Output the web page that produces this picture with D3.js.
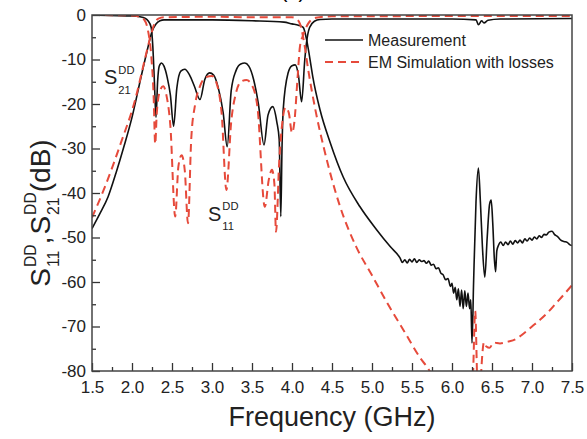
<!DOCTYPE html>
<html>
<head>
<meta charset="utf-8">
<script src="https://cdn.jsdelivr.net/npm/d3@7"></script>
<style>
  html, body { margin: 0; padding: 0; background: #fff; }
  svg { display: block; font-family: "Liberation Sans", Arial, sans-serif; }
</style>
</head>
<body>
<div id="chart"></div>
<script>
// frequency (GHz), dB
const measS21 = [
  [1.5,-48],[1.6,-44.6],[1.7,-40.9],[1.8,-35.5],[1.9,-29.5],[2.0,-23],[2.1,-15],[2.15,-11],
  [2.2,-7.2],[2.25,-3.7],[2.3,-2.0],[2.35,-1.3],[2.4,-1.1],[3.0,-1.1],[3.5,-1.3],[3.9,-1.6],
  [4.0,-2.0],[4.08,-2.3],[4.14,-2.8],[4.18,-5.3],[4.22,-9.4],[4.26,-13.9],[4.35,-21.3],
  [4.48,-28.8],[4.64,-36.4],[4.85,-43.1],[5.06,-48.3],[5.23,-52.1],[5.35,-54.6],
  [5.38,-55.6],[5.41,-55.0],[5.44,-55.7],[5.47,-54.9],[5.5,-55.5],[5.53,-54.8],[5.56,-55.6],
  [5.59,-55.0],[5.62,-55.4],[5.65,-55.2],[5.68,-55.8],[5.71,-55.3],[5.74,-56.2],[5.77,-56.0],
  [5.8,-57.0],[5.83,-56.8],[5.86,-58.0],[5.89,-58.4],[5.92,-59.5],[5.95,-59.2],[5.98,-61.0],
  [6.0,-60.3],[6.02,-62.5],[6.04,-61.2],[6.06,-64.0],[6.08,-61.5],[6.1,-65.5],[6.12,-61.8],
  [6.14,-66],[6.16,-62],[6.18,-65.5],[6.2,-62.5],[6.22,-66],[6.235,-64],[6.25,-73.7],
  [6.27,-60],[6.3,-42],[6.33,-34.4],[6.355,-42],[6.38,-52],[6.41,-58.9],[6.44,-50],
  [6.47,-42.5],[6.49,-41.6],[6.51,-47],[6.53,-55],[6.545,-57.7],[6.56,-53],[6.58,-51.8],
  [6.61,-51],[6.64,-51.8],[6.67,-51.0],[6.7,-51.6],[6.73,-50.8],[6.76,-51.5],[6.79,-50.7],
  [6.82,-51.2],[6.85,-50.6],[6.88,-51.2],[6.91,-50.3],[6.94,-50.8],[6.97,-50.1],[7.0,-50.6],
  [7.03,-49.9],[7.06,-50.3],[7.09,-49.6],[7.12,-50.0],[7.15,-49.3],[7.18,-49.4],[7.21,-48.8],
  [7.25,-48.6],[7.28,-49.3],[7.32,-49.8],[7.36,-50.6],[7.4,-50.9],[7.44,-51.1],[7.47,-51.6],
  [7.5,-51.8]
];

const measS11 = [
  [1.5,0],[1.7,-0.1],[2.0,-0.2],[2.1,-0.4],[2.16,-0.7],[2.2,-1.3],[2.24,-2.8],[2.26,-7],
  [2.28,-15],[2.30,-23],[2.32,-15],[2.34,-11.5],[2.37,-10.8],[2.40,-11.5],[2.44,-14],
  [2.48,-18],[2.52,-25],[2.56,-16.5],[2.61,-12.6],[2.66,-12.2],[2.72,-13.5],[2.78,-16],
  [2.85,-19],[2.91,-14.5],[2.97,-13],[3.02,-13.5],[3.08,-16.5],[3.14,-22],[3.19,-29.6],
  [3.24,-17],[3.30,-12.5],[3.36,-11],[3.41,-10.8],[3.46,-11.5],[3.52,-14.5],[3.58,-20],
  [3.65,-29.2],[3.70,-22.5],[3.76,-20.6],[3.81,-24],[3.84,-28],[3.86,-45.3],[3.875,-30],
  [3.89,-21.3],[3.95,-13.1],[4.0,-11.4],[4.04,-11.2],[4.08,-13.5],[4.12,-19.5],[4.16,-10],
  [4.18,-6.4],[4.22,-2.8],[4.28,-1.4],[4.35,-1.0],[4.5,-0.9],[5.0,-0.9],[6.0,-0.9],
  [6.3,-1.1],[6.33,-2.2],[6.37,-1.3],[6.40,-1.8],[6.45,-1.2],[6.6,-0.9],[7.5,-0.8]
];

const simS21 = [
  [1.5,-45.5],[1.66,-38.7],[1.86,-28.8],[2.04,-19],[2.16,-10],[2.23,-4.9],[2.28,-2],
  [2.33,-0.8],[2.4,-0.5],[3.0,-0.4],[3.5,-0.5],[4.0,-0.5],[4.05,-0.8],[4.1,-2],[4.15,-6],
  [4.2,-12],[4.3,-22],[4.4,-30],[4.5,-37],[4.6,-43],[4.8,-52],[5.0,-58.5],[5.2,-65],
  [5.4,-71],[5.6,-77],[5.72,-80],[5.8,-83],[6.2,-90],[6.26,-82],[6.29,-66.5],[6.315,-82],
  [6.34,-90],[6.36,-82],[6.38,-76],[6.40,-73.5],[6.43,-74.5],[6.47,-74.8],[6.52,-73.6],
  [6.6,-73.8],[6.7,-73.4],[6.8,-72.8],[6.9,-71.5],[7.0,-70],[7.1,-68.5],[7.2,-66.8],
  [7.3,-64.8],[7.4,-62.8],[7.5,-60.7]
];

const simS11 = [
  [1.5,0],[2.0,-0.1],[2.1,-0.4],[2.15,-1],[2.2,-3.5],[2.24,-9],[2.27,-18],[2.29,-29],
  [2.31,-22],[2.35,-17],[2.39,-16],[2.43,-18],[2.48,-25],[2.54,-45.3],[2.58,-34],[2.62,-31.5],
  [2.66,-35],[2.70,-46.8],[2.74,-28],[2.79,-20],[2.85,-16],[2.92,-14],[3.0,-13.7],[3.06,-15.5],
  [3.12,-22],[3.18,-39.3],[3.24,-24],[3.3,-17.5],[3.36,-15],[3.43,-14.6],[3.5,-15.8],
  [3.57,-21],[3.66,-43.1],[3.71,-37],[3.75,-34.8],[3.78,-38],[3.80,-48.7],[3.84,-33],
  [3.88,-24],[3.92,-20.8],[3.96,-22],[4.0,-26.5],[4.03,-24],[4.07,-14],[4.1,-7],[4.14,-4.5],
  [4.2,-2],[4.3,-0.6],[4.5,-0.3],[7.5,-0.2]
];

const xTickVals = [1.5, 2.0, 2.5, 3.0, 3.5, 4.0, 4.5, 5.0, 5.5, 6.0, 6.5, 7.0, 7.5];
const yTickVals = [0, -10, -20, -30, -40, -50, -60, -70, -80];
const legendNames = ["Measurement", "EM Simulation with losses"];

const width = 587, height = 439;
const margin = { top: 15, right: 15, bottom: 68, left: 92 };
const red = "#e64a3b";
const font = "'Liberation Sans', Arial, sans-serif";

const svg = d3.select("#chart").append("svg")
  .attr("width", width).attr("height", height);

const x = d3.scaleLinear([1.5, 7.5], [margin.left, width - margin.right]);
const y = d3.scaleLinear([-80, 0], [height - margin.bottom, margin.top]);

svg.append("clipPath").attr("id", "clip")
  .append("rect")
  .attr("x", margin.left).attr("y", margin.top)
  .attr("width", x.range()[1] - x.range()[0])
  .attr("height", y.range()[0] - y.range()[1]);

// title, cut off at top in the original
svg.append("text").attr("x", 293).attr("y", -2)
  .attr("text-anchor", "middle").attr("font-size", 20).text("(a)");

const line = d3.line()
  .x(d => x(d[0])).y(d => y(d[1]))
  .curve(d3.curveMonotoneX);

const plot = svg.append("g").attr("clip-path", "url(#clip)");

[measS21, measS11].forEach(s => {
  plot.append("path").datum(s)
    .attr("d", line).attr("fill", "none")
    .attr("stroke", "#111").attr("stroke-width", 1.6);
});
[simS21, simS11].forEach(s => {
  plot.append("path").datum(s)
    .attr("d", line).attr("fill", "none")
    .attr("stroke", red).attr("stroke-width", 2)
    .attr("stroke-dasharray", "8,5");
});

// axes (ticks pointing inward)
const bottom = height - margin.bottom;
svg.append("g").attr("transform", `translate(0,${bottom})`)
  .call(d3.axisBottom(x).tickValues(d3.range(1.75, 7.5, 0.5)).tickSize(-4).tickFormat(""))
  .call(g => g.select(".domain").remove());
svg.append("g").attr("transform", `translate(0,${bottom})`)
  .call(d3.axisBottom(x).tickValues(xTickVals).tickSize(-8).tickPadding(10).tickFormat(d3.format(".1f")))
  .call(g => g.select(".domain").remove())
  .call(g => g.selectAll("text").attr("font-size", 17).attr("font-family", font).attr("fill", "#222"));

svg.append("g").attr("transform", `translate(${margin.left},0)`)
  .call(d3.axisLeft(y).tickValues(d3.range(-75, 0, 10)).tickSize(-4).tickFormat(""))
  .call(g => g.select(".domain").remove());
svg.append("g").attr("transform", `translate(${margin.left},0)`)
  .call(d3.axisLeft(y).tickValues(yTickVals).tickSize(-8).tickPadding(6).tickFormat(d => String(d)))
  .call(g => g.select(".domain").remove())
  .call(g => g.selectAll("text").attr("font-size", 17).attr("font-family", font).attr("fill", "#222"));

svg.selectAll(".tick line").attr("stroke", "#333").attr("stroke-width", 1.3);

svg.append("rect")
  .attr("x", margin.left).attr("y", margin.top)
  .attr("width", x.range()[1] - x.range()[0])
  .attr("height", y.range()[0] - y.range()[1])
  .attr("fill", "none").attr("stroke", "#444").attr("stroke-width", 1.5);

// S with stacked superscript / subscript
function stacked(g, x0, base, fs, sup, sub, supDy, subDy) {
  const s = g.append("text").attr("x", x0).attr("y", base).attr("font-size", fs).text("S");
  const w = s.node().getComputedTextLength();
  const small = fs * 0.56;
  const a = g.append("text").attr("x", x0 + w + 1).attr("y", base + supDy).attr("font-size", small).text(sup);
  const b = g.append("text").attr("x", x0 + w + 1).attr("y", base + subDy).attr("font-size", small).text(sub);
  return x0 + w + 1 + Math.max(a.node().getComputedTextLength(), b.node().getComputedTextLength());
}

const labels = svg.append("g").attr("fill", "#222");
stacked(labels, 104, 84, 20, "DD", "21", -10, 10);
stacked(labels, 208, 221, 20, "DD", "11", -11, 9);

// y title
const yt = svg.append("g").attr("transform", "translate(50,213) rotate(-90)");
const inner = yt.append("g").attr("fill", "#222");
let cx = stacked(inner, 0, 0, 28, "DD", "11", -14, 9);
const comma = inner.append("text").attr("x", cx).attr("y", 0).attr("font-size", 28).text(", ");
cx += comma.node().getComputedTextLength() + 2;
cx = stacked(inner, cx, 0, 28, "DD", "21", -14, 9);
const unit = inner.append("text").attr("x", cx).attr("y", 0).attr("font-size", 28).text("(dB)");
cx += unit.node().getComputedTextLength();
inner.attr("transform", `translate(${-cx / 2},0)`);

// x title
svg.append("text")
  .attr("x", (x.range()[0] + x.range()[1]) / 2).attr("y", 426)
  .attr("text-anchor", "middle").attr("font-size", 27).attr("fill", "#222")
  .text("Frequency (GHz)");

// legend
const legend = svg.append("g").attr("font-size", 16).attr("fill", "#222");
legendNames.forEach((name, i) => {
  const ly = 40 + i * 22;
  legend.append("line")
    .attr("x1", 325).attr("x2", 363).attr("y1", ly).attr("y2", ly)
    .attr("stroke", i === 0 ? "#111" : red)
    .attr("stroke-width", i === 0 ? 1.6 : 2)
    .attr("stroke-dasharray", i === 0 ? null : "8,5");
  legend.append("text").attr("x", 368).attr("y", ly + 6).text(name);
});
</script>
</body>
</html>
